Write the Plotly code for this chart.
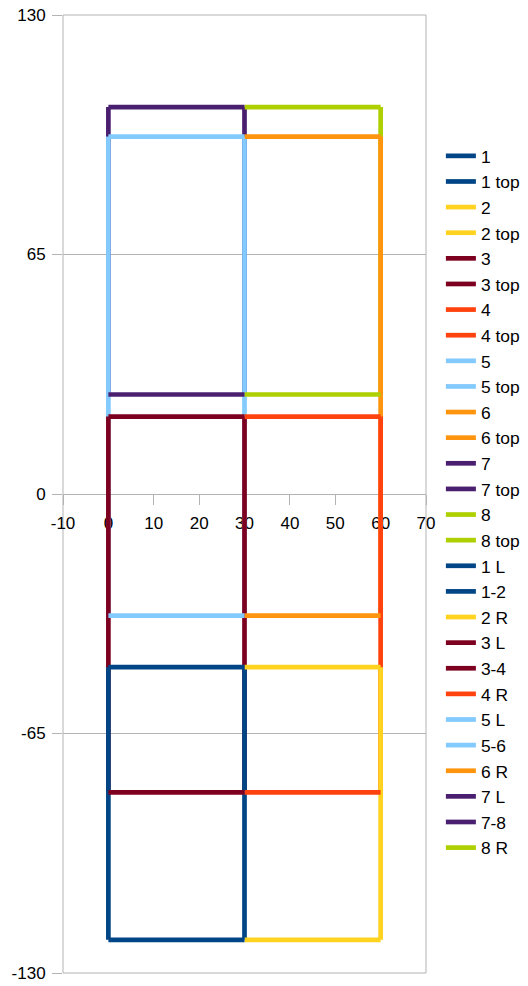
import plotly.graph_objects as go

# Box edges for boxes 1..8 (odd = left column, even = right column)
box_left = [0, 30, 0, 30, 0, 30, 0, 30]
box_right = [30, 60, 30, 60, 30, 60, 30, 60]
box_bottom = [-121, -121, -81, -81, -33, -33, 27, 27]
box_top = [-47, -47, 21, 21, 97, 97, 105, 105]

box_colors = ["#004586", "#ffd320", "#7e0021", "#ff420e",
              "#83caff", "#ff950e", "#4b1f6f", "#aecf00"]

# Vertical edge series per row of boxes: (left, divider, right)
pair_names = [("1 L", "1-2", "2 R"), ("3 L", "3-4", "4 R"),
              ("5 L", "5-6", "6 R"), ("7 L", "7-8", "8 R")]
edge_x = [0, 30, 60]

x_ticks = [-10, 0, 10, 20, 30, 40, 50, 60, 70]
y_ticks = [-130, -65, 0, 65, 130]

series = []  # (name, xs, ys, color)
for i in range(8):
    n = str(i + 1)
    series.append((n, [box_left[i], box_right[i]], [box_bottom[i], box_bottom[i]], box_colors[i]))
    series.append((n + " top", [box_left[i], box_right[i]], [box_top[i], box_top[i]], box_colors[i]))
for r, names in enumerate(pair_names):
    bi = 2 * r
    cols = [box_colors[bi], box_colors[bi], box_colors[bi + 1]]
    for k in range(3):
        series.append((names[k], [edge_x[k], edge_x[k]], [box_bottom[bi], box_top[bi]], cols[k]))

fig = go.Figure()
n_series = len(series)
for idx, (name, xs, ys, c) in enumerate(series):
    fig.add_trace(go.Scatter(
        x=xs, y=ys, mode="lines", name=name,
        line=dict(color=c, width=4.7),
        zorder=n_series - idx,
    ))

grid_c = "#b3b3b3"
fig.update_layout(
    width=528, height=986,
    margin=dict(l=63, r=102, t=15, b=13, autoexpand=False),
    paper_bgcolor="white", plot_bgcolor="white",
    font=dict(family="Liberation Sans, Arial, sans-serif", size=17, color="#000000"),
    showlegend=True,
    legend=dict(
        x=1.041, xanchor="left", y=0.4916, yanchor="middle",
        font=dict(size=17.4, color="#000000"),
        itemwidth=30, bgcolor="rgba(0,0,0,0)",
    ),
    xaxis=dict(
        range=[-10, 70], tickvals=x_ticks, ticktext=[str(v) for v in x_ticks],
        showgrid=False, zeroline=False, automargin=False,
        showline=True, linecolor=grid_c, linewidth=1,
        ticks="outside", ticklen=10, tickcolor=grid_c,
        ticklabelstandoff=4,
        anchor="free", position=0.5,
        tickfont=dict(size=17),
    ),
    yaxis=dict(
        range=[-130, 130], tickvals=y_ticks, ticktext=[str(v) for v in y_ticks],
        showgrid=True, gridcolor=grid_c, gridwidth=1, zeroline=False, automargin=False,
        showline=True, linecolor=grid_c, linewidth=1, mirror=True,
        ticks="outside", ticklen=10, tickcolor=grid_c,
        ticklabelstandoff=3,
        tickfont=dict(size=17),
    ),
    shapes=[dict(type="rect", xref="x domain", yref="y domain",
                 x0=0, x1=1, y0=0, y1=1, line=dict(color=grid_c, width=1),
                 layer="below")],
)

fig.write_html("out.html",
               config={"displayModeBar": False},
               post_script="document.body.style.margin='0';document.body.style.overflow='hidden';")
